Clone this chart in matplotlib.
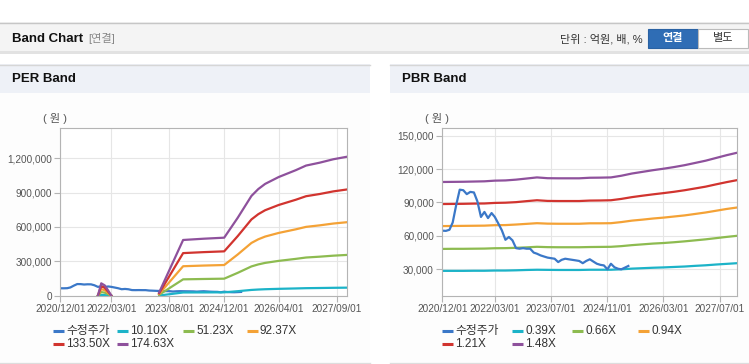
import numpy as np
import pandas as pd
import matplotlib
matplotlib.use('Agg')
import matplotlib.pyplot as plt
from matplotlib.patches import Rectangle
from matplotlib.ticker import FuncFormatter
import matplotlib.dates as mdates

plt.rcParams['font.family'] = ['Liberation Sans', 'Noto Sans CJK KR']

# adjusted close (수정주가), monthly from 2020/12 (won)
price = [64700, 64500, 65500, 72000, 88000, 101500, 101000, 97500, 99500, 99000,
         91000, 77000, 81500, 76000, 80500, 77000, 71000, 65000, 56500, 59000,
         56000, 49000, 48500, 49000, 48500, 48500, 45000, 44000, 42500, 41500,
         40500, 40000, 39500, 36500, 38500, 39500, 39000, 38500, 38000, 37500,
         35500, 37500, 39000, 37000, 35000, 34000, 33500, 30000, 35000, 31800,
         30500, 30000, 31500, 33000]
price_dates = pd.date_range('2020-12-01', periods=len(price), freq='MS')

# PER band
per_dates = pd.to_datetime(['2021-11-01', '2021-12-01', '2022-01-01', '2022-02-01', '2022-03-01',
                            '2022-04-01', '2023-05-01', '2023-12-01', '2024-06-01', '2024-12-01',
                            '2025-04-01', '2025-08-01', '2025-10-01', '2025-12-01', '2026-04-01',
                            '2026-09-01', '2026-12-01', '2027-04-01', '2027-08-01', '2027-12-01'])
nan = np.nan
per_10 = [0, 6200, 5200, 2600, 0, nan, 1600, 28100, 28700, 29300, 39300, 50300, 53800,
          56400, 59900, 63300, 65600, 67100, 68800, 70100]
per_51 = [0, 31700, 26400, 13200, 0, nan, 8200, 142600, 145800, 148500, 199500, 255300, 272900,
          286100, 303700, 321300, 333000, 340300, 349100, 355600]
per_92 = [0, 57100, 47600, 23800, 0, nan, 14800, 257000, 262900, 267600, 359700, 460100, 491900,
          515700, 547400, 579100, 600300, 613500, 629400, 641000]
per_133 = [0, 82600, 68800, 34400, 0, nan, 21400, 371500, 380000, 386800, 519900, 665100, 711000,
           745400, 791300, 837100, 867700, 886800, 909800, 926600]
per_174 = [0, 108000, 90000, 45000, 0, nan, 28000, 486000, 497000, 506000, 680000, 870000, 930000,
           975000, 1035000, 1095000, 1135000, 1160000, 1190000, 1212000]

# PBR band, quarterly from 2020/12
pbr_dates = pd.date_range('2020-12-01', '2027-12-01', freq='3MS')
pbr_039 = [28600, 28600, 28600, 28700, 28700, 28900, 28900, 29100, 29400, 29600, 29500, 29400,
           29400, 29400, 29600, 29600, 29600, 30000, 30600, 31000, 31400, 31700, 32100, 32500,
           33100, 33600, 34300, 34900, 35500]
pbr_066 = [48300, 48400, 48400, 48500, 48600, 48900, 49000, 49300, 49700, 50200, 49900, 49800,
           49800, 49800, 50000, 50100, 50200, 50800, 51700, 52400, 53100, 53600, 54300, 55100,
           56000, 56900, 58000, 59100, 60100]
pbr_094 = [68800, 68900, 69000, 69100, 69200, 69600, 69700, 70200, 70800, 71400, 71000, 70900,
           70900, 70900, 71300, 71300, 71400, 72400, 73700, 74600, 75600, 76400, 77400, 78400,
           79700, 81000, 82600, 84200, 85500]
pbr_121 = [88600, 88700, 88800, 89000, 89100, 89600, 89800, 90300, 91200, 92000, 91400, 91300,
           91300, 91300, 91700, 91800, 92000, 93200, 94800, 96100, 97300, 98400, 99600, 101000,
           102600, 104200, 106300, 108300, 110100]
pbr_148 = [108400, 108500, 108600, 108800, 109000, 109600, 109800, 110500, 111500, 112500, 111800,
           111700, 111700, 111700, 112200, 112300, 112500, 114000, 116000, 117500, 119000, 120300,
           121800, 123500, 125500, 127500, 130000, 132500, 134700]

per_labels = ['수정주가', '10.10X', '51.23X', '92.37X', '133.50X', '174.63X']
pbr_labels = ['수정주가', '0.39X', '0.66X', '0.94X', '1.21X', '1.48X']
per_xticks = ['2020-12-01', '2022-03-01', '2023-08-01', '2024-12-01', '2026-04-01', '2027-09-01']
pbr_xticks = ['2020-12-01', '2022-03-01', '2023-07-01', '2024-11-01', '2026-03-01', '2027-07-01']
colors = ['#3b78c8', '#1cb3c8', '#8dbb50', '#f4a236', '#d1342f', '#8e519c']

W, H = 749, 364
fig = plt.figure(figsize=(W / 100, H / 100), dpi=100)

# background / frame in pixel coords
bg = fig.add_axes([0, 0, 1, 1])
bg.set_xlim(0, W)
bg.set_ylim(H, 0)
bg.axis('off')

bg.add_patch(Rectangle((0, 22), W, 29, facecolor='#f4f4f4', edgecolor='none'))
bg.plot([0, W], [22.5, 22.5], color='#c6c6c6', lw=1)
bg.add_patch(Rectangle((0, 51), W, 3, facecolor='#e2e2e2', edgecolor='none'))
bg.text(12, 39, 'Band Chart', fontsize=9.5, fontweight='bold', color='#111111', va='center')
bg.text(88, 39, '[연결]', fontsize=8, color='#888888', va='center')
bg.text(643, 39, '단위 : 억원, 배, %', fontsize=8, color='#333333', va='center', ha='right')
bg.add_patch(Rectangle((648, 29), 50, 19, facecolor='#2f6db5', edgecolor='#2a62a3', lw=0.8))
bg.text(673, 38.5, '연결', fontsize=8, color='white', fontweight='bold', ha='center', va='center')
bg.add_patch(Rectangle((698, 29), 50, 19, facecolor='white', edgecolor='#bbbbbb', lw=0.8))
bg.text(723, 38.5, '별도', fontsize=8, color='#333333', ha='center', va='center')

for x0, x1, title in [(0, 370, 'PER Band'), (390, W, 'PBR Band')]:
    bg.add_patch(Rectangle((x0, 93), x1 - x0, 269, facecolor='#fdfdfd', edgecolor='none'))
    bg.add_patch(Rectangle((x0, 64), x1 - x0, 29, facecolor='#eef1f7', edgecolor='none'))
    bg.plot([x0, x1], [64.5, 64.5], color='#d6d6d6', lw=1)
    bg.plot([x0, x1], [362.5, 362.5], color='#dddddd', lw=1)
    bg.text(x0 + 12, 79, title, fontsize=9.5, fontweight='bold', color='#111111', va='center')


def style(ax, xticks, ymax, ymin, yticks):
    ax.set_facecolor('white')
    ax.set_xlim(pd.Timestamp('2020-12-01'), pd.Timestamp('2027-12-01'))
    ax.set_ylim(ymin, ymax)
    ax.set_yticks(yticks)
    ax.yaxis.set_major_formatter(FuncFormatter(lambda v, p: f'{v:,.0f}'))
    ax.set_xticks(pd.to_datetime(xticks))
    ax.xaxis.set_major_formatter(mdates.DateFormatter('%Y/%m/%d'))
    ax.grid(True, color='#e6e6e6', lw=0.8)
    ax.set_axisbelow(True)
    for s in ax.spines.values():
        s.set_color('#b4b4b4')
        s.set_linewidth(0.8)
    ax.tick_params(length=4, color='#b4b4b4', labelcolor='#555555', labelsize=7.2, pad=2)


def legend(cols, labels):
    rows = [330.7, 330.7, 330.7, 330.7, 344, 344]
    xs = cols + cols[:2]
    for x, y, lab, c in zip(xs, rows, labels, colors):
        bg.plot([x, x + 11], [y, y], color=c, lw=2.2, solid_capstyle='butt')
        bg.text(x + 13, y, lab, fontsize=8.5, color='#333333', va='center')


ax1 = fig.add_axes([60.3 / W, (H - 295.7) / H, 286.7 / W, 167.4 / H])
ax1.plot(price_dates, price, color=colors[0], lw=1.6)
for vals, c in zip([per_10, per_51, per_92, per_133, per_174], colors[1:]):
    ax1.plot(per_dates, vals, color=c, lw=1.6)
style(ax1, per_xticks, 1460000, 0, [0, 300000, 600000, 900000, 1200000])
bg.text(55, 118, '( 원 )', fontsize=8, color='#555555', ha='center', va='center')
legend([53, 117, 183, 247], per_labels)

ax2 = fig.add_axes([442.3 / W, (H - 295.7) / H, 295 / W, 167.4 / H])
for vals, c in zip([pbr_039, pbr_066, pbr_094, pbr_121, pbr_148], colors[1:]):
    ax2.plot(pbr_dates, vals, color=c, lw=1.6)
ax2.plot(price_dates, price, color=colors[0], lw=1.6)
style(ax2, pbr_xticks, 156600, 6300, [30000, 60000, 90000, 120000, 150000])
bg.text(437, 118, '( 원 )', fontsize=8, color='#555555', ha='center', va='center')
legend([442, 512, 572, 638], pbr_labels)

fig.savefig('out.png', dpi=100)
